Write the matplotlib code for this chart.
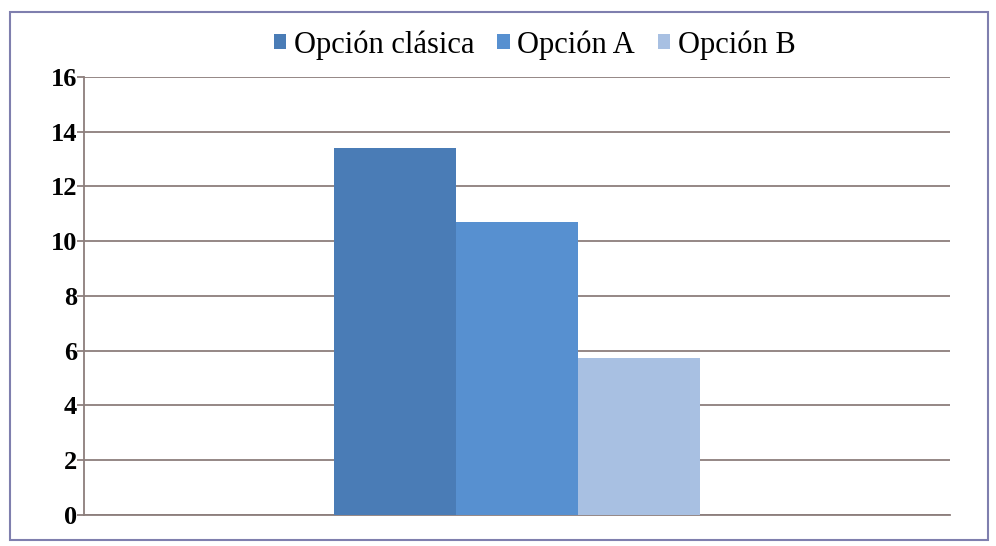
import matplotlib
matplotlib.use("Agg")
import matplotlib.pyplot as plt
import numpy as np
from matplotlib.patches import Rectangle

# ─── Data ─────────────────────────────────────────────────────────────
series = ["Opción clásica", "Opción A", "Opción B"]
values = [13.4, 10.7, 5.75]
colors = ["#4A7CB6", "#5790D0", "#A8C0E2"]
yticks = [0, 2, 4, 6, 8, 10, 12, 14, 16]

plt.rcParams["font.family"] = ["Liberation Serif", "DejaVu Serif"]

fig = plt.figure(figsize=(9.96, 5.46), dpi=100)
ax = fig.add_axes([0.0843, 0.0568, 0.8697, 0.8022])

width = 0.141
offsets = (np.arange(len(values)) - (len(values) - 1) / 2) * width
for off, v, c, name in zip(offsets, values, colors, series):
    ax.bar(off, v, width=width, color=c, label=name, zorder=3)

ax.set_xlim(-0.5, 0.5)
ax.set_ylim(0, 16)
ax.set_yticks(yticks)
ax.set_yticklabels([str(t) for t in yticks], fontsize=19, fontweight="semibold")
ax.set_xticks([])

grid_c = "#8C7E7C"
ax.yaxis.grid(True, color=grid_c, linewidth=1.3, zorder=0)
ax.tick_params(axis="y", length=5, width=1.3, color=grid_c, pad=0)
for s in ["top", "right"]:
    ax.spines[s].set_visible(False)
for s in ["left", "bottom"]:
    ax.spines[s].set_color(grid_c)
    ax.spines[s].set_linewidth(1.3)

leg = fig.legend(loc="center", bbox_to_anchor=(0.537, 0.918), ncol=3, frameon=False,
                 fontsize=22, handlelength=0.4, handleheight=0.4,
                 handletextpad=0.25, columnspacing=0.75)

# outer chart border
fig.add_artist(Rectangle((0.010, 0.011), 0.982, 0.967, transform=fig.transFigure,
                         fill=False, edgecolor="#7F7FAE", linewidth=1.5))

fig.savefig("out.png", dpi=100)
